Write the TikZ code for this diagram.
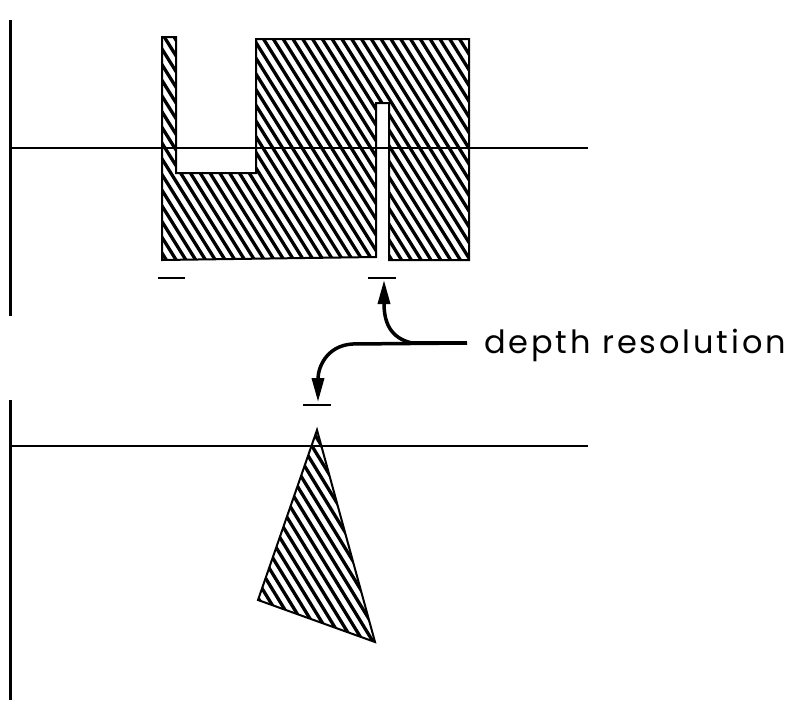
\documentclass[tikz,border=0pt]{standalone}
\usepackage{fontspec}
\newfontfamily\lblfont[LetterSpace=9]{Poppins}
\usetikzlibrary{arrows.meta}
\tikzset{
  axis/.style={line width=1.5pt},
  wall/.style={line width=3pt},
  tick/.style={line width=2pt},
  outline/.style={line width=2pt, line join=miter},
  hatch/.style={line width=3.3pt},
  arr/.style={line width=3.5pt, -{Triangle[length=24pt,width=12pt]}},
}
\begin{document}
\begin{tikzpicture}[x=1pt,y=-1pt]
\useasboundingbox (0,0) rectangle (789,702);
% walls
\draw[wall] (10,20) -- (10,316);
\draw[wall] (10,400) -- (10,700);
% top shape hatching
\begin{scope}
\clip (162,37) -- (176,37) -- (176,173) -- (256,173) -- (256,39) -- (469,39) -- (469,260) -- (389,260) -- (389,103) -- (376,103) -- (376,257) -- (162,260) -- cycle;
\foreach \i in {0,...,55} {
  \draw[hatch] ({\i*9.8},25) -- ({\i*9.8+153},270);
}
\end{scope}
\draw[outline] (162,37) -- (176,37) -- (176,173) -- (256,173) -- (256,39) -- (469,39) -- (469,260) -- (389,260) -- (389,103) -- (376,103) -- (376,257) -- (162,260) -- cycle;
% triangle hatching
\coordinate (apex) at (317,430);
\coordinate (tl) at (258,600);
\coordinate (tr) at (375,642);
\begin{scope}
\clip (apex) -- (tl) -- (tr) -- cycle;
\foreach \i in {0,...,40} {
  \draw[hatch] ({100+\i*9.8},420) -- ({100+\i*9.8+141},650);
}
\end{scope}
\draw[outline] (apex) -- (tl) -- (tr) -- cycle;
% axis lines
\draw[axis] (10,148) -- (588,148);
\draw[axis] (10,446) -- (588,446);
% ticks
\draw[tick] (158,278) -- (185,278);
\draw[tick] (368,278) -- (396,278);
\draw[tick] (303,405) -- (331,405);
\coordinate (t1) at (384,280);
\coordinate (t2) at (318,402);
% label
\node[anchor=base west, inner sep=0pt, font=\lblfont\fontsize{32}{38}\selectfont] (lbl) at (484,353) {depth resolution};
\coordinate (j) at (467,343);
\coordinate (k) at (412,343);
\draw[line width=3.5pt] (j) -- (k);
\draw[arr] (k) .. controls (390,338) and (384,322) .. (t1);
\draw[arr] (j) -- (352,344) .. controls (326,346) and (318,368) .. (t2);
\end{tikzpicture}
\end{document}
